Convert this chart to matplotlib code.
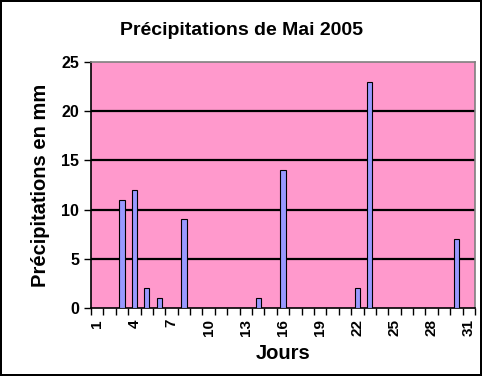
import matplotlib
matplotlib.use("Agg")
import matplotlib.pyplot as plt
import numpy as np

days = list(range(1, 32))
rain_days = [3, 4, 5, 6, 8, 14, 16, 22, 23, 30]
rain_values = [11, 12, 2, 1, 9, 1, 14, 2, 23, 7]
label_days = [1, 4, 7, 10, 13, 16, 19, 22, 25, 28, 31]
yticks = [0, 5, 10, 15, 20, 25]

plt.rcParams['font.family'] = ['Liberation Sans', 'DejaVu Sans']

fig = plt.figure(figsize=(4.82, 3.76), dpi=100)
fig.patch.set_facecolor('white')
fig.patch.set_edgecolor('black')
fig.patch.set_linewidth(1.5)

ax = fig.add_axes([0.1888, 0.1809, 0.7967, 0.6541])
ax.set_facecolor('#FF99CC')

ax.bar(rain_days, rain_values, width=0.42, color='#9999FF', edgecolor='black', linewidth=0.8, zorder=3)

ax.set_xlim(0.5, 31.5)
ax.set_ylim(0, 25)
ax.set_yticks(yticks)
for y in yticks[1:-1]:
    ax.axhline(y, color='black', linewidth=1.6, zorder=2)

ax.set_xticks(label_days)
ax.set_xticklabels([str(d) for d in label_days], rotation=90, fontsize=11)
ax.set_xticks(np.arange(0.5, 32, 1), minor=True)
ax.tick_params(axis='x', which='major', length=0, pad=8)
ax.tick_params(axis='x', which='minor', length=5, width=1, direction='out')
ax.tick_params(axis='y', length=5, width=1, direction='out', labelsize=11.5)
for lab in ax.get_yticklabels() + ax.get_xticklabels():
    lab.set_fontweight('bold')

for s in ['left', 'bottom']:
    ax.spines[s].set_color('black')
    ax.spines[s].set_linewidth(1.2)
for s in ['top', 'right']:
    ax.spines[s].set_color('#808080')
    ax.spines[s].set_linewidth(1.2)

ax.set_xlabel('Jours', fontsize=14.5, fontweight='bold', labelpad=6)
ax.set_ylabel('Précipitations en mm', fontsize=14.5, fontweight='bold', labelpad=8)
fig.text(0.5, 0.92, 'Précipitations de Mai 2005', ha='center', va='center', fontsize=14, fontweight='bold')

fig.savefig('out.png', dpi=100, facecolor='white', edgecolor='black')
